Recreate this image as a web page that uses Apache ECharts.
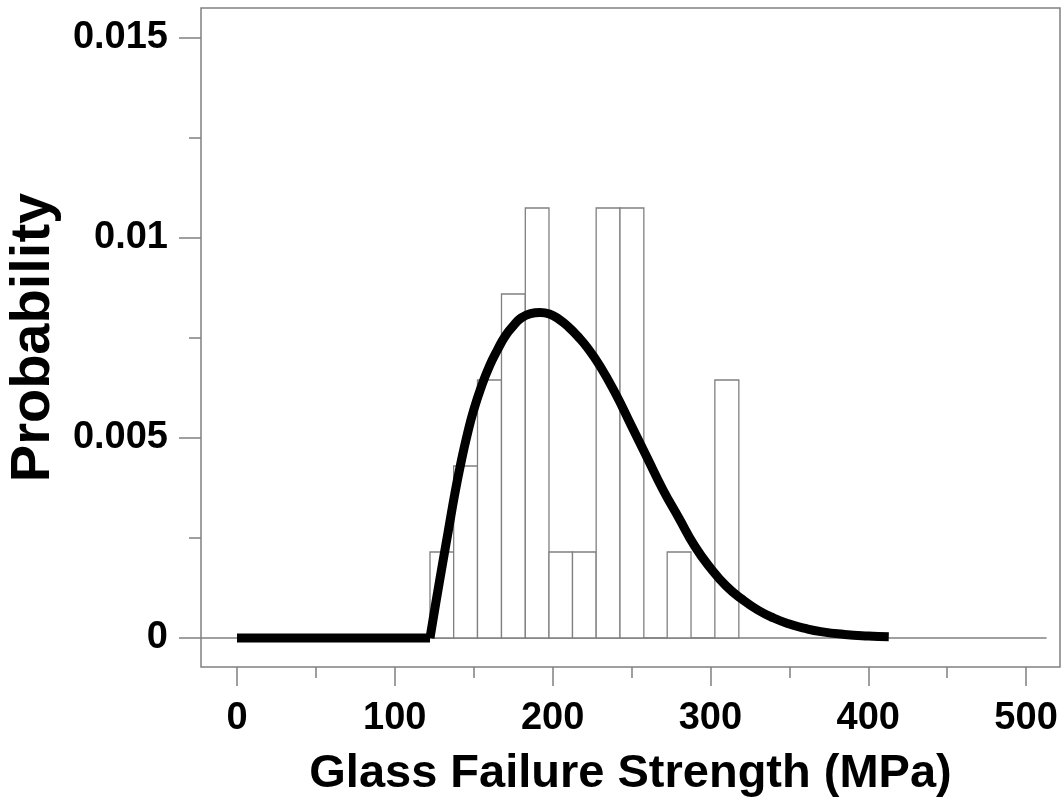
<!DOCTYPE html>
<html>
<head>
<meta charset="utf-8">
<script src="https://cdn.jsdelivr.net/npm/echarts@6/dist/echarts.min.js"></script>
<style>
  html, body { margin: 0; padding: 0; background: #fff; }
  #chart { width: 1062px; height: 798px; }
</style>
</head>
<body>
<div id="chart"></div>
<script>
// ---- data ----
const binEdges = [122.3, 137.3, 152.4, 167.6, 182.7, 197.7, 212.6, 227.6, 242.7, 257.8, 272.6, 287.7, 302.8, 318.0];
const binDensity = [0.00215, 0.0043, 0.00645, 0.0086, 0.01075, 0.00215, 0.00215, 0.01075, 0.01075, 0, 0.00215, 0, 0.00645];

// flat part of the fitted curve (zero density below the threshold)
const flatX = [0, 122.3];
const flatY = [0, 0];
// rising / falling part of the fitted curve
const curveX = [122.3, 126, 130, 134, 138, 142, 146, 150, 155, 160, 165, 170, 175, 180, 186, 192, 198, 204, 210, 216, 222, 230, 240, 250, 260, 270, 280, 290, 300, 310, 320, 330, 340, 350, 360, 370, 385, 400, 413];
const curveY = [0, 0.00088, 0.0018, 0.0027, 0.0036, 0.0044, 0.0051, 0.0057, 0.0063, 0.0068, 0.0072, 0.00755, 0.0078, 0.0080, 0.00811, 0.00814, 0.0081, 0.00797, 0.00778, 0.00754, 0.00726, 0.0068, 0.0061, 0.0053, 0.0045, 0.0037, 0.0030, 0.0023, 0.00175, 0.0013, 0.00097, 0.0007, 0.0005, 0.00035, 0.00024, 0.00016, 0.00009, 0.00005, 0.00003];

const baselineX = [-22.8, 513];

const xMajorTicks = [0, 100, 200, 300, 400, 500];
const xMinorTicks = [50, 150, 250, 350, 450];
const yMajorTicks = [0, 0.005, 0.01, 0.015];
const yMajorLabels = ['0', '0.005', '0.01', '0.015'];
const yMinorTicks = [0.0025, 0.0075, 0.0125];

const xMin = -22.8, xMax = 521.5;
const yMin = -0.000725, yMax = 0.01575;

// ---- build ----
const histData = binDensity.map((d, i) => [binEdges[i], binEdges[i + 1], d]);
const flatData = flatX.map((x, i) => [x, flatY[i]]);
const curveData = curveX.map((x, i) => [x, curveY[i]]);
const baselineData = baselineX.map(x => [x, 0]);

const fontFamily = '"Liberation Sans", Arial, Helvetica, sans-serif';
const gray = '#808080';

function tickAxis(isX, ticks, len) {
  return {
    type: 'value',
    min: isX ? xMin : yMin, max: isX ? xMax : yMax,
    position: isX ? 'bottom' : 'left',
    axisLine: { show: false, onZero: false },
    splitLine: { show: false },
    axisTick: { show: true, inside: false, length: len, customValues: ticks, lineStyle: { color: gray, width: 1.5 } },
    axisLabel: { show: false }
  };
}

const x0 = tickAxis(true, xMajorTicks, 19);
x0.axisLabel = { show: true, customValues: xMajorTicks, margin: 33, color: '#000', fontSize: 38, fontWeight: 'bold', fontFamily: fontFamily };
x0.name = 'Glass Failure Strength (MPa)';
x0.nameLocation = 'middle';
x0.nameGap = 84;
x0.nameTextStyle = { color: '#000', fontSize: 47, fontWeight: 'bold', fontFamily: fontFamily };
const x1 = tickAxis(true, xMinorTicks, 11);

const y0 = tickAxis(false, yMajorTicks, 22);
y0.axisLabel = {
  show: true, customValues: yMajorTicks, margin: 33, color: '#000', fontSize: 38, fontWeight: 'bold', fontFamily: fontFamily,
  formatter: v => { const i = yMajorTicks.findIndex(t => Math.abs(t - v) < 1e-9); return i >= 0 ? yMajorLabels[i] : ''; }
};
y0.name = 'Probability';
y0.nameLocation = 'middle';
y0.nameGap = 137;
y0.nameRotate = 90;
y0.nameTextStyle = { color: '#000', fontSize: 56, fontWeight: 'bold', fontFamily: fontFamily };
const y1 = tickAxis(false, yMinorTicks, 12);

const chart = echarts.init(document.getElementById('chart'));
chart.setOption({
  animation: false,
  backgroundColor: '#fff',
  grid: {
    left: 201, top: 8, right: 2, bottom: 131,
    containLabel: false, outerBoundsMode: 'none',
    show: true, borderColor: gray, borderWidth: 1.5, backgroundColor: 'transparent'
  },
  xAxis: [x0, x1],
  yAxis: [y0, y1],
  series: [{
    type: 'line', data: baselineData, xAxisIndex: 0, yAxisIndex: 0,
    symbol: 'none', lineStyle: { color: gray, width: 1.5 }, silent: true, z: 1
  }, {
    type: 'custom', data: histData, xAxisIndex: 0, yAxisIndex: 0,
    encode: { x: [0, 1], y: 2 }, z: 2,
    renderItem: (params, api) => {
      const p0 = api.coord([api.value(0), api.value(2)]);
      const p1 = api.coord([api.value(1), 0]);
      return {
        type: 'rect',
        shape: { x: p0[0], y: p0[1], width: p1[0] - p0[0], height: p1[1] - p0[1] },
        style: { fill: '#fff', stroke: gray, lineWidth: 1.3 }
      };
    }
  }, {
    type: 'line', data: flatData, xAxisIndex: 0, yAxisIndex: 0,
    symbol: 'none', lineStyle: { color: '#000', width: 9, cap: 'butt' }, z: 5
  }, {
    type: 'line', data: curveData, xAxisIndex: 0, yAxisIndex: 0,
    symbol: 'none', smooth: 0.5,
    lineStyle: { color: '#000', width: 9, cap: 'butt', join: 'round' }, z: 5
  }]
});
</script>
</body>
</html>
